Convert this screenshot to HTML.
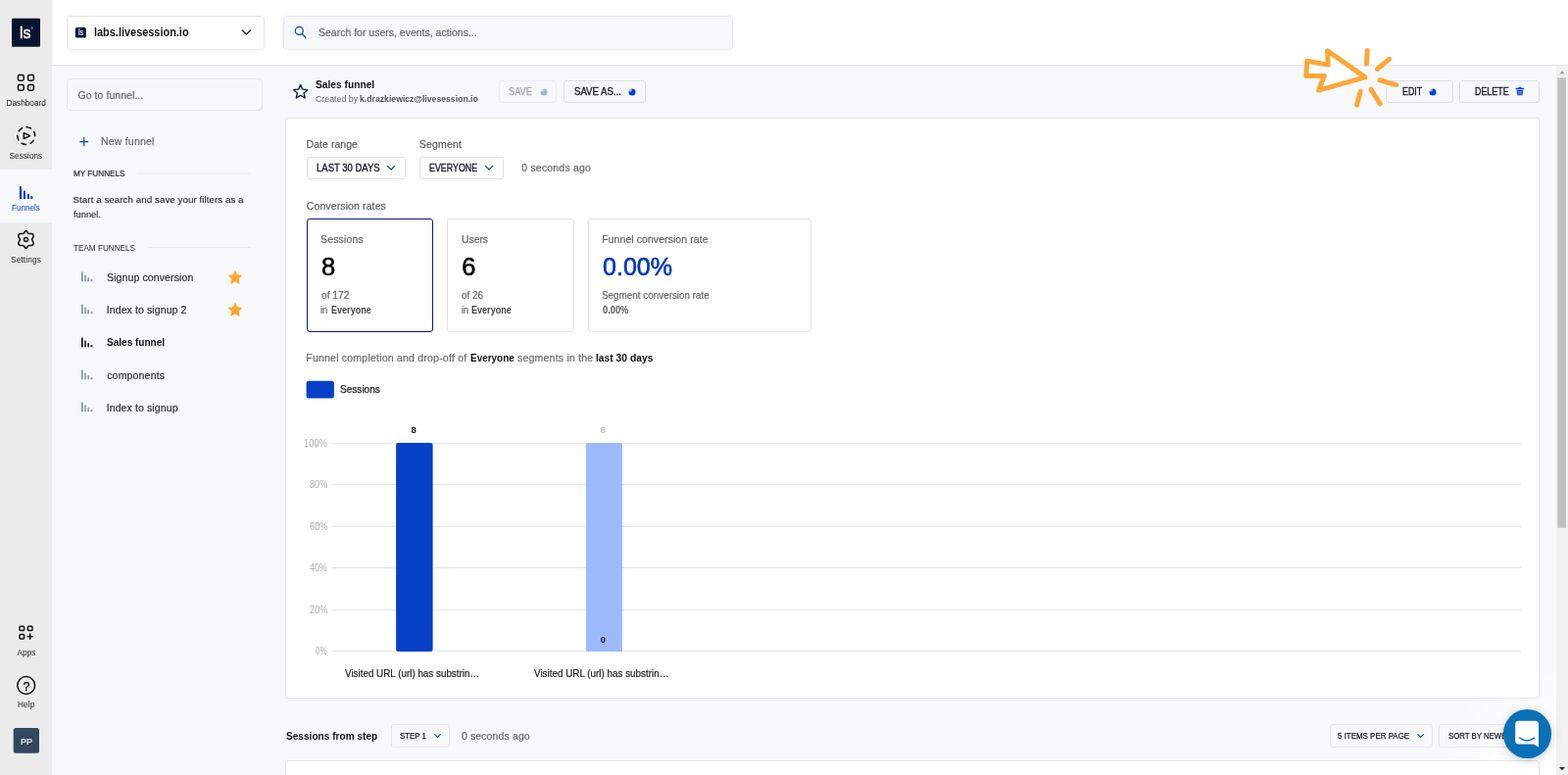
<!DOCTYPE html>
<html lang="en">
<head>
<meta charset="utf-8">
<title>Sales funnel - LiveSession</title>
<style>
*{box-sizing:border-box;margin:0;padding:0}
html,body{width:1600px;height:791px;overflow:hidden;background:#f7f8fa}
body{font-family:"Liberation Sans",sans-serif;position:relative}
.b{position:absolute;display:block}
.t{position:absolute;white-space:nowrap;line-height:1;transform-origin:0 0}
</style>
</head>
<body>
<div class="b" style="left:0px;top:0px;width:53.00px;height:791.00px;background:#ebebeb;"></div>
<div class="b" style="left:0px;top:173px;width:53.00px;height:54.00px;background:#f7f8fa;"></div>
<div class="b" style="left:53px;top:0px;width:1547.00px;height:66.00px;background:#fff;"></div>
<div class="b" style="left:53px;top:66px;width:1547.00px;height:1.00px;background:#e6e7ea;"></div>
<div class="b" style="left:1468px;top:671px;width:120px;height:120px;background:radial-gradient(circle 118px at 100% 100%,rgba(255,255,255,1) 0,rgba(255,255,255,.9) 45%,rgba(255,255,255,.45) 72%,rgba(255,255,255,0) 100%)"></div>
<svg class="b" style="left:12px;top:18px" width="29" height="30"><rect x="0.00" y="0.70" width="29.00" height="29.10" rx="1" fill="#06142f"/></svg>
<div class="t" style="left:20.37px;top:25.000px;font-size:17px;color:#fff;transform:scaleX(0.9403);-webkit-text-stroke:0.5px #fff;">ls</div>
<svg class="b" style="left:30px;top:26px;" width="6" height="6" viewBox="0 0 6 6"><circle cx="2.6" cy="2.6" r="1.3" fill="#3f6ce0"/></svg>
<svg class="b" style="left:17px;top:75px;" width="19" height="19" viewBox="0 0 19 19"><g fill="none" stroke="#111" stroke-width="1.5"><rect x="1.4" y="1.6" width="5.8" height="5.6" rx="1.4"/><rect x="11.6" y="1.6" width="5.8" height="5.6" rx="1.4"/><rect x="1.4" y="11.6" width="5.8" height="5.6" rx="1.4"/><rect x="11.6" y="11.6" width="5.8" height="5.6" rx="1.4"/></g></svg>
<div class="t" style="left:6.49px;top:102.375px;font-size:8.25px;color:#222;">Dashboard</div>
<svg class="b" style="left:15px;top:127px;" width="24" height="24" viewBox="0 0 24 24"><g fill="none" stroke="#111" stroke-width="1.55" stroke-linecap="round" stroke-linejoin="round"><circle cx="11.75" cy="11.6" r="8.95" stroke-dasharray="4.6 4.772" stroke-dashoffset="4.56"/><path d="M9.35 8.65 L15.5 11.6 L9.35 14.55 Z"/></g></svg>
<div class="t" style="left:9.58px;top:156.375px;font-size:8.25px;color:#222;letter-spacing:0.028px;">Sessions</div>
<svg class="b" style="left:19px;top:189px;" width="16" height="16" viewBox="0 0 16 16"><g fill="#0a3fc4"><rect x="0.9" y="1.3" width="2.3" height="12.7" rx="0.3"/><rect x="4.9" y="5.5" width="2.1" height="8.5" rx="0.3"/><rect x="8.85" y="8.9" width="2.1" height="5.1" rx="0.3"/><rect x="12.1" y="11.2" width="2.3" height="2.8" rx="0.3"/></g></svg>
<div class="t" style="left:11.89px;top:209.375px;font-size:8.25px;color:#0a3fc4;transform:scaleX(0.9811);">Funnels</div>
<svg class="b" style="left:17.3px;top:235.4px;" width="19" height="20" viewBox="0 0 19 20"><g fill="none" stroke="#111" stroke-width="1.5" stroke-linejoin="round"><path d="M9.5 1.2 C10.6 1.2 11 2.6 11.6 3.4 C12.3 4.3 14.6 3.6 15.6 3.9 C17 4.4 17.6 5.9 17 6.9 C16.5 7.8 15.6 8.6 15.6 9.5 C15.6 10.4 16.5 11.2 17 12.1 C17.6 13.1 17 14.6 15.6 15.1 C14.6 15.4 12.3 14.7 11.6 15.6 C11 16.4 10.6 17.8 9.5 17.8 C8.4 17.8 8 16.4 7.4 15.6 C6.7 14.7 4.4 15.4 3.4 15.1 C2 14.6 1.4 13.1 2 12.1 C2.5 11.2 3.4 10.4 3.4 9.5 C3.4 8.6 2.5 7.8 2 6.9 C1.4 5.9 2 4.4 3.4 3.9 C4.4 3.6 6.7 4.3 7.4 3.4 C8 2.6 8.4 1.2 9.5 1.2 Z" transform="translate(0 -0.55) scale(1 1.06)"/><circle cx="9.5" cy="9.55" r="2"/></g></svg>
<div class="t" style="left:11.03px;top:262.375px;font-size:8.25px;color:#222;letter-spacing:0.152px;">Settings</div>
<svg class="b" style="left:18px;top:637px;" width="18" height="18" viewBox="0 0 18 18"><g fill="none" stroke="#111" stroke-width="1.5" stroke-linecap="round"><rect x="2" y="2.3" width="4.6" height="4.3" rx="1"/><rect x="10.4" y="2.3" width="4.6" height="4.3" rx="1"/><rect x="2" y="10.6" width="4.6" height="4.3" rx="1"/><path d="M12.7 10.1 V15.3 M10.1 12.7 H15.3"/></g></svg>
<div class="t" style="left:17.49px;top:663.375px;font-size:8.25px;color:#222;letter-spacing:0.053px;">Apps</div>
<svg class="b" style="left:16px;top:689px;" width="22" height="22" viewBox="0 0 22 22"><circle cx="10.7" cy="10.5" r="8.9" fill="none" stroke="#111" stroke-width="1.5"/></svg>
<div class="t" style="left:23.56px;top:694.750px;font-size:12.5px;color:#111;-webkit-text-stroke:0.45px #111;">?</div>
<div class="t" style="left:18.07px;top:716.375px;font-size:8.25px;color:#222;letter-spacing:0.093px;">Help</div>
<svg class="b" style="left:13px;top:742px" width="27" height="27"><rect x="0.70" y="0.90" width="26.30" height="25.80" rx="2.5" fill="#33475e"/></svg>
<div class="t" style="left:21.00px;top:751.750px;font-size:9.5px;color:#d9dee4;transform:scaleX(0.9620);font-weight:bold;">PP</div>
<div class="b" style="left:68px;top:16px;width:202px;height:35px;background:#fff;border:1px solid #e6e7ea;border-radius:4px;"></div>
<svg class="b" style="left:76px;top:28px" width="12" height="11"><rect x="0.90" y="0.00" width="10.90" height="10.60" rx="1.6" fill="#06142f"/></svg>
<div class="t" style="left:79.71px;top:28.700px;font-size:8.6px;color:#dfe4ee;transform:scaleX(0.8496);-webkit-text-stroke:0.2px #dfe4ee;">ls</div>
<div class="t" style="left:96.20px;top:27.000px;font-size:12px;color:#151515;transform:scaleX(0.9106);font-weight:bold;">labs.livesession.io</div>
<svg class="b" style="left:245px;top:28px;" width="12" height="10" viewBox="0 0 12 10"><path d="M2.3 3 L6.4 7 L10.5 3" fill="none" stroke="#1a1a1a" stroke-width="1.3" stroke-linecap="round" stroke-linejoin="round"/></svg>
<div class="b" style="left:289px;top:16px;width:459px;height:35px;background:#f7f8fa;border:1px solid #e4e6e9;border-radius:4px;"></div>
<svg class="b" style="left:299px;top:25px;" width="16" height="16" viewBox="0 0 16 16"><g fill="none" stroke="#1a4fbe" stroke-width="1.35" stroke-linecap="round"><circle cx="6.3" cy="6.5" r="4.0"/><path d="M9.4 9.7 L12.8 13.3"/></g></svg>
<div class="t" style="left:324.97px;top:27.750px;font-size:10.5px;color:#636363;-webkit-text-stroke:0.18px #636363;">Search for users, events, actions...</div>
<div class="b" style="left:68px;top:80px;width:200px;height:33px;background:#f7f8fa;border:1px solid #e4e6ea;border-radius:4px;"></div>
<div class="t" style="left:79.54px;top:91.750px;font-size:10.5px;color:#636363;letter-spacing:0.055px;-webkit-text-stroke:0.18px #636363;">Go to funnel...</div>
<svg class="b" style="left:80px;top:139px;" width="12" height="12" viewBox="0 0 12 12"><path d="M5.75 1.6 V9.6 M1.75 5.6 H9.75" fill="none" stroke="#0a3fc4" stroke-width="1.2" stroke-linecap="round"/></svg>
<div class="t" style="left:103.02px;top:138.750px;font-size:10.5px;color:#666;letter-spacing:0.197px;-webkit-text-stroke:0.18px #666;">New funnel</div>
<div class="t" style="left:74.88px;top:172.500px;font-size:9px;color:#2a2a2a;transform:scaleX(0.9074);-webkit-text-stroke:0.2px #2a2a2a;">MY FUNNELS</div>
<svg class="b" style="left:140px;top:176px" width="116" height="2"><rect x="0.00" y="0.60" width="115.40" height="1.00" fill="#e9ebee"/></svg>
<div class="t" style="left:74.56px;top:198.625px;font-size:9.75px;color:#222;letter-spacing:0.055px;-webkit-text-stroke:0.08px #222;">Start a search and save your filters as a</div>
<div class="t" style="left:75.08px;top:213.625px;font-size:9.75px;color:#222;transform:scaleX(0.9546);-webkit-text-stroke:0.08px #222;">funnel.</div>
<div class="t" style="left:74.99px;top:248.500px;font-size:9px;color:#2a2a2a;transform:scaleX(0.9063);">TEAM FUNNELS</div>
<svg class="b" style="left:151px;top:252px" width="105" height="1"><rect x="0.00" y="0.00" width="104.40" height="1.00" fill="#e9ebee"/></svg>
<svg class="b" style="left:82px;top:277.0px;" width="14" height="12" viewBox="0 0 14 12"><g fill="#8995a1"><rect x="1" y="0.6" width="1.7" height="9.7"/><rect x="4.2" y="3.6" width="1.6" height="6.7"/><rect x="7.3" y="6.2" width="1.6" height="4.1"/><rect x="10.5" y="8.2" width="1.9" height="2.1"/></g></svg>
<div class="t" style="left:109.03px;top:277.750px;font-size:10.5px;color:#2a2a2a;letter-spacing:0.116px;-webkit-text-stroke:0.18px #2a2a2a;">Signup conversion</div>
<svg class="b" style="left:82px;top:310.3px;" width="14" height="12" viewBox="0 0 14 12"><g fill="#8995a1"><rect x="1" y="0.6" width="1.7" height="9.7"/><rect x="4.2" y="3.6" width="1.6" height="6.7"/><rect x="7.3" y="6.2" width="1.6" height="4.1"/><rect x="10.5" y="8.2" width="1.9" height="2.1"/></g></svg>
<div class="t" style="left:108.73px;top:310.750px;font-size:10.5px;color:#2a2a2a;letter-spacing:0.106px;-webkit-text-stroke:0.18px #2a2a2a;">Index to signup 2</div>
<svg class="b" style="left:82px;top:343.5px;" width="14" height="12" viewBox="0 0 14 12"><g fill="#111"><rect x="1" y="0.6" width="1.7" height="9.7"/><rect x="4.2" y="3.6" width="1.6" height="6.7"/><rect x="7.3" y="6.2" width="1.6" height="4.1"/><rect x="10.5" y="8.2" width="1.9" height="2.1"/></g></svg>
<div class="t" style="left:109.40px;top:343.750px;font-size:10.5px;color:#111;transform:scaleX(0.9553);font-weight:bold;">Sales funnel</div>
<svg class="b" style="left:82px;top:377.0px;" width="14" height="12" viewBox="0 0 14 12"><g fill="#8995a1"><rect x="1" y="0.6" width="1.7" height="9.7"/><rect x="4.2" y="3.6" width="1.6" height="6.7"/><rect x="7.3" y="6.2" width="1.6" height="4.1"/><rect x="10.5" y="8.2" width="1.9" height="2.1"/></g></svg>
<div class="t" style="left:109.19px;top:377.750px;font-size:10.5px;color:#2a2a2a;letter-spacing:0.179px;-webkit-text-stroke:0.18px #2a2a2a;">components</div>
<svg class="b" style="left:82px;top:410.40000000000003px;" width="14" height="12" viewBox="0 0 14 12"><g fill="#8995a1"><rect x="1" y="0.6" width="1.7" height="9.7"/><rect x="4.2" y="3.6" width="1.6" height="6.7"/><rect x="7.3" y="6.2" width="1.6" height="4.1"/><rect x="10.5" y="8.2" width="1.9" height="2.1"/></g></svg>
<div class="t" style="left:108.70px;top:410.750px;font-size:10.5px;color:#2a2a2a;letter-spacing:0.113px;-webkit-text-stroke:0.18px #2a2a2a;">Index to signup</div>
<svg class="b" style="left:232.8px;top:275.6px;" width="14" height="14" viewBox="0 0 14 14"><path d="M7 0.4 L9 4.7 L13.7 5.3 L10.3 8.6 L11.1 13.3 L7 11 L2.9 13.3 L3.7 8.6 L0.3 5.3 L5 4.7 Z" fill="#ffa62e" stroke="#ffa62e" stroke-width="0.8" stroke-linejoin="round"/></svg>
<svg class="b" style="left:232.8px;top:308.9px;" width="14" height="14" viewBox="0 0 14 14"><path d="M7 0.4 L9 4.7 L13.7 5.3 L10.3 8.6 L11.1 13.3 L7 11 L2.9 13.3 L3.7 8.6 L0.3 5.3 L5 4.7 Z" fill="#ffa62e" stroke="#ffa62e" stroke-width="0.8" stroke-linejoin="round"/></svg>
<svg class="b" style="left:297px;top:84px;" width="20" height="20" viewBox="0 0 20 20"><path transform="translate(9.7 9.4) scale(1.08) translate(-8.5 -8.4)" d="M8.5 2 L10.4 6.3 L15 6.8 L11.6 9.9 L12.6 14.5 L8.5 12.1 L4.4 14.5 L5.4 9.9 L2 6.8 L6.6 6.3 Z" fill="none" stroke="#0e1a33" stroke-width="1.25" stroke-linejoin="round"/></svg>
<div class="t" style="left:321.70px;top:80.750px;font-size:10.5px;color:#111;transform:scaleX(0.9734);font-weight:bold;">Sales funnel</div>
<div class="t" style="left:321.83px;top:96.500px;font-size:9px;color:#5e5e5e;transform:scaleX(0.9798);">Created by</div>
<div class="t" style="left:366.93px;top:96.500px;font-size:9px;color:#555;transform:scaleX(0.9639);font-weight:bold;">k.drazkiewicz@livesession.io</div>
<div class="b" style="left:508.5px;top:82px;width:59.5px;height:23px;background:#f7f8fa;border:1px solid #eceef1;border-radius:3px;"></div>
<div class="t" style="left:519.20px;top:87.750px;font-size:10.5px;color:#a0a4ab;transform:scaleX(0.8785);-webkit-text-stroke:0.25px #a0a4ab;">SAVE</div>
<svg class="b" style="left:549.5px;top:88.6px;" width="10" height="10" viewBox="0 0 10 10"><g opacity="1"><circle cx="5" cy="5" r="3.5" fill="#9db1e6"/><path d="M4.6 4.6 V1.1 A3.5 3.5 0 0 0 1.1 4.6 Z" fill="#fff" opacity="0.6"/></g></svg>
<div class="b" style="left:575px;top:82px;width:84px;height:23px;background:#f7f8fa;border:1px solid #dcdfe4;border-radius:3px;"></div>
<div class="t" style="left:586.13px;top:87.750px;font-size:10.5px;color:#181b24;transform:scaleX(0.9156);-webkit-text-stroke:0.35px #181b24;">SAVE AS...</div>
<svg class="b" style="left:639.6px;top:88.6px;" width="10" height="10" viewBox="0 0 10 10"><g opacity="1"><circle cx="5" cy="5" r="3.5" fill="#0a3fc4"/><path d="M4.6 4.6 V1.1 A3.5 3.5 0 0 0 1.1 4.6 Z" fill="#fff" opacity="0.6"/></g></svg>
<div class="b" style="left:1414px;top:82px;width:69px;height:23px;background:#f7f8fa;border:1px solid #dcdfe4;border-radius:3px;"></div>
<div class="t" style="left:1430.84px;top:87.750px;font-size:10.5px;color:#181b24;transform:scaleX(0.8396);-webkit-text-stroke:0.35px #181b24;">EDIT</div>
<svg class="b" style="left:1457.4px;top:88.6px;" width="10" height="10" viewBox="0 0 10 10"><g opacity="1"><circle cx="5" cy="5" r="3.5" fill="#0a3fc4"/><path d="M4.6 4.6 V1.1 A3.5 3.5 0 0 0 1.1 4.6 Z" fill="#fff" opacity="0.6"/></g></svg>
<div class="b" style="left:1489px;top:82px;width:82px;height:23px;background:#f7f8fa;border:1px solid #dcdfe4;border-radius:3px;"></div>
<div class="t" style="left:1504.65px;top:87.750px;font-size:10.5px;color:#181b24;transform:scaleX(0.8468);-webkit-text-stroke:0.35px #181b24;">DELETE</div>
<svg class="b" style="left:1546px;top:88px;" width="10" height="10" viewBox="0 0 10 10"><g fill="#1b4fd0"><rect x="0.6" y="1.8" width="8.6" height="1.4" rx="0.5"/><rect x="3.4" y="0.7" width="3" height="1.4" rx="0.4"/><path d="M1.6 3.8 H8.2 L7.6 9.3 H2.2 Z"/></g><g stroke="#cfdcff" stroke-width="0.6"><path d="M3.9 5 V8.2 M5.9 5 V8.2"/></g></svg>
<div class="b" style="left:291px;top:120px;width:1280px;height:593px;background:#fff;border:1px solid #e5e6e9;border-radius:3px;"></div>
<div class="t" style="left:312.56px;top:141.750px;font-size:10.5px;color:#555;letter-spacing:0.047px;-webkit-text-stroke:0.15px #555;">Date range</div>
<div class="t" style="left:427.70px;top:141.750px;font-size:10.5px;color:#555;letter-spacing:0.218px;-webkit-text-stroke:0.15px #555;">Segment</div>
<div class="b" style="left:312.6px;top:160.1px;width:101.19999999999999px;height:22.900000000000006px;background:#fff;border:1px solid #dddfe3;border-radius:3px;"></div>
<div class="t" style="left:323.40px;top:165.750px;font-size:10.5px;color:#181b24;transform:scaleX(0.9062);-webkit-text-stroke:0.35px #181b24;">LAST 30 DAYS</div>
<svg class="b" style="left:394px;top:167.7px;" width="10.2" height="6.6" viewBox="0 0 10.2 6.6"><path d="M1.6 1.6 L5.10 5.00 L8.60 1.6" fill="none" stroke="#0a3fc4" stroke-width="1.25" stroke-linecap="round" stroke-linejoin="round"/></svg>
<div class="b" style="left:427.8px;top:160.1px;width:86.19999999999999px;height:22.900000000000006px;background:#fff;border:1px solid #dddfe3;border-radius:3px;"></div>
<div class="t" style="left:438.02px;top:165.750px;font-size:10.5px;color:#181b24;transform:scaleX(0.8440);-webkit-text-stroke:0.35px #181b24;">EVERYONE</div>
<svg class="b" style="left:493.6px;top:167.7px;" width="10.2" height="6.6" viewBox="0 0 10.2 6.6"><path d="M1.6 1.6 L5.10 5.00 L8.60 1.6" fill="none" stroke="#0a3fc4" stroke-width="1.25" stroke-linecap="round" stroke-linejoin="round"/></svg>
<div class="t" style="left:532.30px;top:165.750px;font-size:10.5px;color:#636363;letter-spacing:0.183px;-webkit-text-stroke:0.18px #636363;">0 seconds ago</div>
<div class="t" style="left:312.75px;top:204.750px;font-size:10.5px;color:#555;letter-spacing:0.114px;-webkit-text-stroke:0.15px #555;">Conversion rates</div>
<div class="b" style="left:313px;top:223px;width:129px;height:115.60000000000002px;background:#fff;border:1px solid #0c1688;border-radius:3px;"></div>
<div class="b" style="left:456.3px;top:223px;width:129.3px;height:115.60000000000002px;background:#fff;border:1px solid #e3e3e3;border-radius:3px;"></div>
<div class="b" style="left:599.5px;top:223px;width:228.5px;height:115.60000000000002px;background:#fff;border:1px solid #e3e3e3;border-radius:3px;"></div>
<div class="t" style="left:327.03px;top:238.750px;font-size:10.5px;color:#5e5e5e;letter-spacing:0.152px;-webkit-text-stroke:0.18px #5e5e5e;">Sessions</div>
<div class="t" style="left:327.98px;top:260.250px;font-size:25.5px;color:#000;-webkit-text-stroke:0.6px #000;">8</div>
<div class="t" style="left:327.50px;top:295.750px;font-size:10.5px;color:#5e5e5e;transform:scaleX(0.9729);-webkit-text-stroke:0.18px #5e5e5e;">of 172</div>
<div class="t" style="left:327.11px;top:310.750px;font-size:10.5px;color:#5e5e5e;transform:scaleX(0.8981);-webkit-text-stroke:0.18px #5e5e5e;">in</div>
<div class="t" style="left:338.20px;top:310.750px;font-size:10.5px;color:#444;transform:scaleX(0.8625);font-weight:bold;">Everyone</div>
<div class="t" style="left:470.76px;top:238.750px;font-size:10.5px;color:#5e5e5e;transform:scaleX(0.9864);-webkit-text-stroke:0.18px #5e5e5e;">Users</div>
<div class="t" style="left:471.16px;top:260.250px;font-size:25.5px;color:#000;-webkit-text-stroke:0.6px #000;">6</div>
<div class="t" style="left:471.01px;top:295.750px;font-size:10.5px;color:#5e5e5e;transform:scaleX(0.9479);-webkit-text-stroke:0.18px #5e5e5e;">of 26</div>
<div class="t" style="left:471.00px;top:310.750px;font-size:10.5px;color:#5e5e5e;transform:scaleX(0.8791);-webkit-text-stroke:0.18px #5e5e5e;">in</div>
<div class="t" style="left:481.25px;top:310.750px;font-size:10.5px;color:#444;transform:scaleX(0.8628);font-weight:bold;">Everyone</div>
<div class="t" style="left:614.21px;top:238.750px;font-size:10.5px;color:#5e5e5e;letter-spacing:0.070px;-webkit-text-stroke:0.18px #5e5e5e;">Funnel conversion rate</div>
<div class="t" style="left:615.11px;top:260.250px;font-size:25.5px;color:#0437b8;transform:scaleX(0.9832);-webkit-text-stroke:0.6px #0437b8;">0.00%</div>
<div class="t" style="left:614.26px;top:295.750px;font-size:10.5px;color:#5e5e5e;transform:scaleX(0.9407);-webkit-text-stroke:0.18px #5e5e5e;">Segment conversion rate</div>
<div class="t" style="left:614.77px;top:310.750px;font-size:10.5px;color:#555;transform:scaleX(0.8859);font-weight:bold;">0.00%</div>
<div class="t" style="left:312.27px;top:359.750px;font-size:10.5px;color:#666;letter-spacing:0.220px;-webkit-text-stroke:0.18px #666;">Funnel completion and drop-off of</div>
<div class="t" style="left:480.08px;top:359.750px;font-size:10.5px;color:#111;transform:scaleX(0.9464);font-weight:bold;">Everyone</div>
<div class="t" style="left:528.00px;top:359.750px;font-size:10.5px;color:#666;letter-spacing:0.219px;-webkit-text-stroke:0.18px #666;">segments in the</div>
<div class="t" style="left:608.28px;top:359.750px;font-size:10.5px;color:#111;transform:scaleX(0.9809);font-weight:bold;">last 30 days</div>
<svg class="b" style="left:312px;top:388px" width="29" height="19"><rect x="0.60" y="0.70" width="28.30" height="17.80" rx="2.5" fill="#0540c9"/></svg>
<div class="t" style="left:346.97px;top:391.750px;font-size:10.5px;color:#1a1a1a;transform:scaleX(0.9589);-webkit-text-stroke:0.25px #1a1a1a;">Sessions</div>
<div class="b" style="left:339px;top:452.0px;width:1213.00px;height:1.00px;background:#e5e5e5;"></div>
<div class="t" style="left:309.96px;top:446.750px;font-size:10.5px;color:#adadad;transform:scaleX(0.8896);-webkit-text-stroke:0.01px #adadad;">100%</div>
<div class="b" style="left:339px;top:494.0px;width:1213.00px;height:1.00px;background:#e5e5e5;"></div>
<div class="t" style="left:315.65px;top:488.750px;font-size:10.5px;color:#adadad;transform:scaleX(0.8690);-webkit-text-stroke:0.01px #adadad;">80%</div>
<div class="b" style="left:339px;top:537.0px;width:1213.00px;height:1.00px;background:#e5e5e5;"></div>
<div class="t" style="left:315.80px;top:531.750px;font-size:10.5px;color:#adadad;transform:scaleX(0.8815);-webkit-text-stroke:0.01px #adadad;">60%</div>
<div class="b" style="left:339px;top:579.0px;width:1213.00px;height:1.00px;background:#e5e5e5;"></div>
<div class="t" style="left:315.78px;top:573.750px;font-size:10.5px;color:#adadad;transform:scaleX(0.8432);-webkit-text-stroke:0.01px #adadad;">40%</div>
<div class="b" style="left:339px;top:622.0px;width:1213.00px;height:1.00px;background:#e5e5e5;"></div>
<div class="t" style="left:315.50px;top:616.750px;font-size:10.5px;color:#adadad;transform:scaleX(0.8823);-webkit-text-stroke:0.01px #adadad;">20%</div>
<div class="b" style="left:339px;top:664.0px;width:1213.00px;height:1.00px;background:#e5e5e5;"></div>
<div class="t" style="left:321.63px;top:658.750px;font-size:10.5px;color:#adadad;transform:scaleX(0.7675);-webkit-text-stroke:0.01px #adadad;">0%</div>
<svg class="b" style="left:404px;top:452px" width="38" height="213"><rect x="0.10" y="0.00" width="37.50" height="213.00" rx="2" fill="#0540c9"/></svg>
<div class="b" style="left:597.5px;top:452px;width:37.70px;height:213.00px;background:#9cbafb;border-radius:2px 2px 0 0;"></div>
<div class="t" style="left:419.57px;top:433.750px;font-size:9.5px;color:#111;font-weight:bold;">8</div>
<div class="t" style="left:612.57px;top:433.625px;font-size:9.75px;color:#b9b9b9;-webkit-text-stroke:0.18px #b9b9b9;">8</div>
<div class="t" style="left:612.86px;top:647.750px;font-size:9.5px;color:#111;font-weight:bold;">0</div>
<div class="t" style="left:351.73px;top:681.750px;font-size:10.5px;color:#1a1a1a;transform:scaleX(0.9375);-webkit-text-stroke:0.2px #1a1a1a;">Visited URL (url) has substrin…</div>
<div class="t" style="left:545.35px;top:681.750px;font-size:10.5px;color:#1a1a1a;transform:scaleX(0.9389);-webkit-text-stroke:0.2px #1a1a1a;">Visited URL (url) has substrin…</div>
<div class="t" style="left:292.20px;top:745.750px;font-size:10.5px;color:#111;transform:scaleX(0.9622);font-weight:bold;">Sessions from step</div>
<div class="b" style="left:399.4px;top:739.3px;width:59.200000000000045px;height:23.5px;background:#f7f8fa;border:1px solid #e3e6ea;border-radius:3px;"></div>
<div class="t" style="left:408.01px;top:746.500px;font-size:9px;color:#181b24;transform:scaleX(0.8733);-webkit-text-stroke:0.25px #181b24;">STEP 1</div>
<svg class="b" style="left:441.8px;top:747.9px;" width="9.0" height="6.0" viewBox="0 0 9.0 6.0"><path d="M1.6 1.6 L4.50 4.40 L7.40 1.6" fill="none" stroke="#0a3fc4" stroke-width="1.1" stroke-linecap="round" stroke-linejoin="round"/></svg>
<div class="t" style="left:470.90px;top:745.750px;font-size:10.5px;color:#636363;letter-spacing:0.125px;-webkit-text-stroke:0.18px #636363;">0 seconds ago</div>
<div class="b" style="left:1357px;top:739.3px;width:104.59999999999991px;height:23.5px;background:transparent;border:1px solid #e3e6ea;border-radius:3px;"></div>
<div class="t" style="left:1365.09px;top:746.500px;font-size:9px;color:#181b24;transform:scaleX(0.8829);-webkit-text-stroke:0.25px #181b24;">5 ITEMS PER PAGE</div>
<svg class="b" style="left:1444.8px;top:747.9px;" width="9.0" height="6.0" viewBox="0 0 9.0 6.0"><path d="M1.6 1.6 L4.50 4.40 L7.40 1.6" fill="none" stroke="#0a3fc4" stroke-width="1.1" stroke-linecap="round" stroke-linejoin="round"/></svg>
<div class="b" style="left:1468.2px;top:739.3px;width:111.79999999999995px;height:23.5px;background:transparent;border:1px solid #e3e6ea;border-radius:3px;"></div>
<div class="t" style="left:1477.50px;top:746.500px;font-size:9px;color:#181b24;transform:scaleX(0.8658);-webkit-text-stroke:0.25px #181b24;">SORT BY NEWEST</div>
<div class="b" style="left:291px;top:776px;width:1280px;height:44px;background:#fff;border:1px solid #e5e6e9;border-radius:3px;"></div>
<div class="b" style="left:1588px;top:67px;width:12.00px;height:724.00px;background:#f1f1f1;"></div>
<svg class="b" style="left:1589px;top:79px" width="9" height="460"><rect x="0.30" y="0.30" width="8.70" height="459.50" fill="#c1c1c1"/></svg>
<svg class="b" style="left:1589px;top:70px;" width="10" height="8" viewBox="0 0 10 8"><path d="M5 2.2 L7.8 5.2 H2.2 Z" fill="#a3a3a3"/></svg>
<svg class="b" style="left:1589px;top:779.6px;" width="10" height="8" viewBox="0 0 10 8"><path d="M5 6.2 L7.9 3.1 H2.1 Z" fill="#1f1f1f"/></svg>
<div class="b" style="left:1533.75px;top:724.4px;width:49.5px;height:49.5px;border-radius:50%;background:#0a70b8;box-shadow:0 1px 5px rgba(0,0,0,.10),0 2px 14px rgba(0,0,0,.14)"></div>
<svg class="b" style="left:1545px;top:734px;" width="27" height="30" viewBox="0 0 27 30"><path d="M4.6 1.8 H21.6 A3.4 3.4 0 0 1 25 5.2 V28.6 L19.6 25.4 H4.6 A3.4 3.4 0 0 1 1.2 22 V5.2 A3.4 3.4 0 0 1 4.6 1.8 Z" fill="#fff"/><path d="M5.6 19.2 Q13.1 24.6 20.6 19.2" fill="none" stroke="#0a70b8" stroke-width="1.5" stroke-linecap="round"/></svg>
<svg class="b" style="left:1320px;top:40px;" width="120" height="75" viewBox="0 0 120 75"><g stroke="#fba838" stroke-width="5" stroke-linecap="round" stroke-linejoin="round"><path d="M73 38.9 L34.6 11.8 L35.1 26.1 L13.7 22.3 L12.8 37.4 L31.3 37.4 L25.6 52.1 Z" fill="#fff"/><g fill="none"><path d="M75.2 11.4 L74.4 25.1"/><path d="M97.6 20.4 L85.3 30.5"/><path d="M88.2 41.9 L104.7 46.6"/><path d="M79.1 51.2 L88.2 65.9"/><path d="M68.2 53.3 L64.6 67.1"/></g></g></svg>
</body>
</html>
